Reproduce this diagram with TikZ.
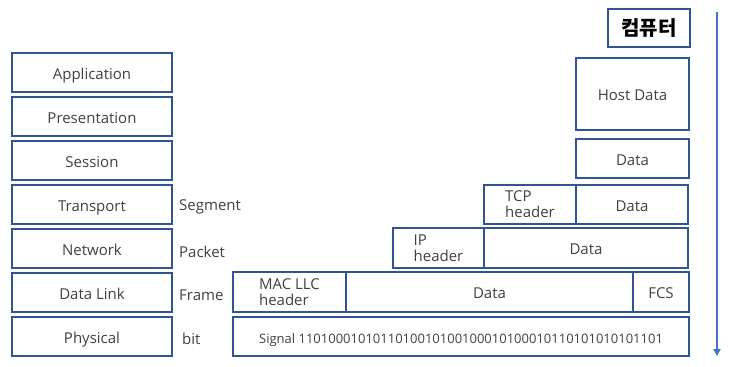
\documentclass[tikz,border=0pt]{standalone}
\usepackage{fontspec}
\setmainfont{Open Sans}
\newfontfamily\kofont{Noto Sans CJK KR}
\usetikzlibrary{arrows.meta}

\definecolor{layerBlue}{HTML}{2F5597}
\definecolor{arrowBlue}{HTML}{4472C4}
\definecolor{textGray}{HTML}{404040}

\tikzset{
    boxbase/.style={
        draw=layerBlue,
        line width=1.5pt,
        inner sep=0pt,
        outer sep=0pt,
        anchor=north west,
        text=textGray,
        font=\fontsize{15}{16}\selectfont
    },
    onerow/.style={
        text height=14.5pt,
        text depth=1.5pt
    },
    layerbox/.style={
        boxbase,
        onerow,
        minimum width=160pt,
        minimum height=39pt
    },
    databox/.style={
        boxbase,
        onerow
    },
    hdrbox/.style={
        boxbase,
        line width=2.4pt,
        align=left
    },
    unitlabel/.style={
        anchor=west,
        inner sep=0pt,
        text=textGray,
        font=\fontsize{15}{16}\selectfont
    }
}

\begin{document}
\begin{tikzpicture}[x=1pt,y=-1pt]

        \useasboundingbox (0,0) rectangle (732,367);

        % =====================================================
        % CAPAS OSI
        % =====================================================

        \node[layerbox] (app)  at (12,53)  {Application};
        \node[layerbox] (pres) at (12,97)  {Presentation};
        \node[layerbox] (sess) at (12,141) {Session};
        \node[layerbox] (trans) at (12,185) {Transport};
        \node[layerbox] (net)  at (12,229) {Network};
        \node[layerbox] (link) at (12,273) {Data Link};
        \node[layerbox] (phys) at (12,317) {Physical};

        % Unidades de datos
        \node[unitlabel] (segment) at (179,207) {Segment};
        \node[unitlabel] (packet)  at (179,252) {Packet};
        \node[unitlabel] (frame)   at (179,295) {Frame};
        \node[unitlabel] (bit)     at (182,339) {bit};

        % =====================================================
        % COMPUTADORA
        % =====================================================

        \node[
            hdrbox,
            minimum width=82pt,
            minimum height=38pt,
            text=black,
            font=\kofont\fontsize{20}{21}\selectfont\bfseries
        ] (host) at (608,9) {컴퓨터};

        \node[
            databox,
            minimum width=113pt,
            minimum height=72pt
        ] (hostdata) at (576,58) {Host Data};

        \node[
            databox,
            minimum width=113pt,
            minimum height=39pt
        ] (sessdata) at (576,139) {Data};

        % Segmento
        \node[
            hdrbox,
            minimum width=92pt,
            minimum height=39pt
        ] (tcphdr) at (484,185) {TCP\\header};

        \node[
            databox,
            minimum width=112pt,
            minimum height=39pt
        ] (tcpdata) at (576,185) {Data};

        % Paquete
        \node[
            hdrbox,
            minimum width=91pt,
            minimum height=40pt
        ] (iphdr) at (393,228) {IP\\header};

        \node[
            databox,
            minimum width=204pt,
            minimum height=40pt
        ] (ipdata) at (484,228) {Data};

        % Trama
        \node[
            databox,
            minimum width=287pt,
            minimum height=40pt
        ] (framedata) at (346,272) {Data};

        \node[
            hdrbox,
            minimum width=113pt,
            minimum height=40pt
        ] (machdr) at (233,272) {MAC LLC\\header};

        \node[
            hdrbox,
            onerow,
            minimum width=56pt,
            minimum height=40pt
        ] (fcs) at (633,272) {FCS};

        % Bits
        \node[
            databox,
            minimum width=456pt,
            minimum height=39pt,
            font=\fontsize{13}{14}\selectfont
        ] (signal) at (233,317) {Signal 1101000101011010010100100010100010110101010101101};

        % Flecha de encapsulamiento
        \coordinate (arrowtop) at (717,12);
        \coordinate (arrowbot) at (717,356);
        \draw[
            arrowBlue,
            line width=2.2pt,
            -{Triangle[width=7pt,length=7pt]}
        ] (arrowtop) -- (arrowbot);

\end{tikzpicture}
\end{document}
